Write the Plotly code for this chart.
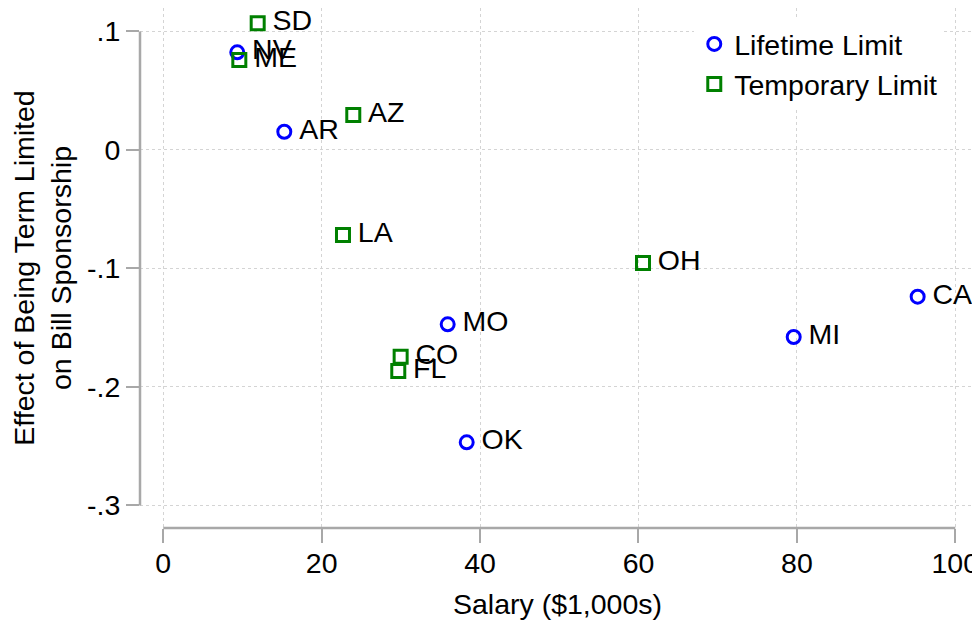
import plotly.graph_objects as go

# Data
life_states = ["NV", "AR", "MO", "OK", "MI", "CA"]
life_salary = [9.34, 15.28, 35.91, 38.31, 79.6, 95.25]
life_effect = [0.0824, 0.0154, -0.1471, -0.2467, -0.1578, -0.1238]

temp_states = ["SD", "ME", "AZ", "LA", "OH", "CO", "FL"]
temp_salary = [11.92, 9.60, 23.99, 22.69, 60.57, 29.97, 29.67]
temp_effect = [0.1069, 0.0759, 0.0295, -0.0717, -0.0954, -0.1745, -0.1865]

x_ticks = [0, 20, 40, 60, 80, 100]
y_ticks = [0.1, 0, -0.1, -0.2, -0.3]
y_ticktext = [".1", "0", "-.1", "-.2", "-.3"]

FONT = "Liberation Sans, Arial, Helvetica, sans-serif"
FS = 28.5
AXC = "#a8a8a8"
GRIDC = "#d4d4d4"
PAD = "\u2009"

fig = go.Figure()
fig.add_trace(go.Scatter(
    x=life_salary, y=life_effect, text=[PAD + s for s in life_states],
    name="Lifetime Limit",
    mode="markers+text", textposition="middle right",
    textfont=dict(size=FS, color="black", family=FONT),
    marker=dict(symbol="circle-open", size=13, color="#0000ff",
                line=dict(width=3, color="#0000ff")),
    cliponaxis=False,
))
fig.add_trace(go.Scatter(
    x=temp_salary, y=temp_effect, text=[PAD + s for s in temp_states],
    name="Temporary Limit",
    mode="markers+text", textposition="middle right",
    textfont=dict(size=FS, color="black", family=FONT),
    marker=dict(symbol="square-open", size=13, color="#008000",
                line=dict(width=3, color="#008000")),
    cliponaxis=False,
))

# The page adds an 8px body margin, so the figure is 8px smaller than the window.
fig.update_layout(
    width=972, height=618,
    margin=dict(l=132, r=5, t=0, b=98, autoexpand=False),
    paper_bgcolor="white", plot_bgcolor="white",
    font=dict(family=FONT, size=FS, color="black"),
    showlegend=True,
    legend=dict(x=0.6638, y=0.979, xanchor="left", yanchor="top",
                bgcolor="white", borderwidth=0,
                font=dict(size=FS, family=FONT, color="black")),
    xaxis=dict(
        range=[-2.94, 102.49], tickvals=x_ticks, automargin=False,
        showgrid=True, gridcolor=GRIDC, griddash="dot", gridwidth=1,
        zeroline=False, showline=False,
        ticks="outside", ticklen=14, tickwidth=2, tickcolor=AXC,
        tickfont=dict(size=FS), ticklabelstandoff=-4,
        title=dict(text="Salary ($1,000s)", font=dict(size=FS), standoff=15),
    ),
    yaxis=dict(
        range=[-0.319, 0.1198], tickvals=y_ticks, ticktext=y_ticktext,
        automargin=False,
        showgrid=True, gridcolor=GRIDC, griddash="dot", gridwidth=1,
        zeroline=False, showline=False,
        ticks="outside", ticklen=13, tickwidth=2, tickcolor=AXC,
        tickfont=dict(size=FS), ticklabelstandoff=0,
        title=dict(text="Effect of Being Term Limited<br>on Bill Sponsorship",
                   font=dict(size=FS), standoff=26),
    ),
    shapes=[
        dict(type="line", xref="paper", yref="y", x0=0, x1=0,
             y0=min(y_ticks), y1=max(y_ticks), line=dict(color=AXC, width=2.5)),
        dict(type="line", xref="x", yref="paper", x0=min(x_ticks), x1=max(x_ticks),
             y0=0, y1=0, line=dict(color=AXC, width=2.5)),
    ],
)

fig.write_html("out.html")
